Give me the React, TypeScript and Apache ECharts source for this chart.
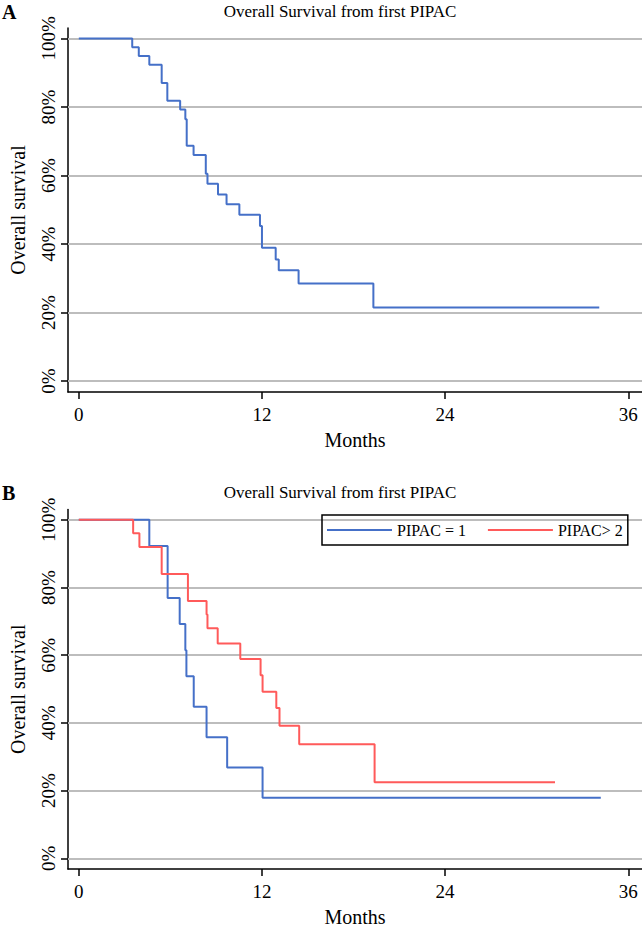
import React, { useEffect, useRef } from "react";
import * as echarts from "echarts";

const FONT = "'Liberation Serif', 'Times New Roman', Times, serif";
const TITLE = "Overall Survival from first PIPAC";
const X_TICKS = [0, 12, 24, 36];
const Y_TICKS = [0, 20, 40, 60, 80, 100];
const LEGEND_NAMES = ["PIPAC = 1", "PIPAC> 2"];

// Panel A: all patients — time of each step (months) and survival (%) after it
const ALL_MONTHS = [0, 3.5, 3.93, 4.62, 5.43, 5.8, 6.64, 6.98, 7.07, 7.52, 8.32, 8.43, 9.12, 9.68, 10.52, 11.87, 12.0, 12.9, 13.1, 14.4, 19.3, 34.1];
const ALL_SURV = [100, 97.4, 94.9, 92.3, 87.0, 81.8, 79.3, 76.4, 68.7, 66.0, 60.5, 57.6, 54.5, 51.6, 48.6, 45.3, 38.9, 35.5, 32.4, 28.5, 21.5, 21.5];

// Panel B: PIPAC = 1
const ONE_MONTHS = [0, 4.62, 5.82, 6.61, 6.98, 7.05, 7.53, 8.37, 9.72, 12.04, 34.2];
const ONE_SURV = [100, 92.3, 76.9, 69.2, 61.5, 53.8, 44.8, 35.8, 26.8, 17.9, 17.9];

// Panel B: PIPAC > 2
const MORE_MONTHS = [0, 3.56, 3.97, 5.43, 7.15, 8.37, 8.43, 9.1, 10.58, 11.91, 12.04, 12.94, 13.15, 14.44, 19.38, 31.2];
const MORE_SURV = [100, 96, 92, 84, 76, 72, 68, 63.5, 58.9, 54.1, 49.2, 44.4, 39.2, 33.7, 22.5, 22.5];

const BLUE = "#4570C8";
const RED = "#FF5A5A";
const GRID_GRAY = "#BDBDBD";

const zip = (xs: number[], ys: number[]) => xs.map((x, i) => [x, ys[i]]);

export default function App() {
  const ref = useRef<HTMLDivElement>(null);
  useEffect(() => {
    document.body.style.margin = "0";
    if (!ref.current) return;
    const chart = echarts.init(ref.current, null, { renderer: "svg" });
    const axisLineStyle = { color: "#000", width: 1.5 };
    const textBase = { fontFamily: FONT, color: "#000" };
    const X_MIN = -0.708;
    const X_MAX = 36.9;
    const Y_MIN = -3.15;
    const Y_MAX = 103.05;

    const xAxis = [0, 1].map((i) => ({
      type: "value",
      gridIndex: i,
      min: X_MIN,
      max: X_MAX,
      axisLine: { show: true, onZero: false, lineStyle: axisLineStyle },
      axisTick: { show: true, customValues: X_TICKS, length: 7, lineStyle: axisLineStyle },
      axisLabel: { customValues: X_TICKS, fontSize: 19, margin: 13, ...textBase },
      splitLine: { show: false },
      name: "Months",
      nameLocation: "middle",
      nameGap: 38,
      nameTextStyle: { fontSize: 20, ...textBase },
    }));

    const yAxis = [0, 1].map((i) => ({
      type: "value",
      gridIndex: i,
      min: Y_MIN,
      max: Y_MAX,
      axisLine: { show: true, onZero: false, lineStyle: axisLineStyle },
      axisTick: { show: true, customValues: Y_TICKS, length: 7, lineStyle: axisLineStyle },
      axisLabel: {
        customValues: Y_TICKS,
        rotate: 90,
        formatter: "{value}%",
        fontSize: 19,
        margin: 10,
        ...textBase,
      },
      splitLine: { show: false },
      name: "Overall survival",
      nameLocation: "middle",
      nameRotate: 90,
      nameGap: 40,
      nameTextStyle: { fontSize: 20, ...textBase },
    }));

    const gridMark = {
      silent: true,
      symbol: "none",
      z: 1,
      label: { show: false },
      lineStyle: { color: GRID_GRAY, width: 1.8, type: "solid" },
      data: Y_TICKS.map((v) => ({ yAxis: v })),
    };

    const stepSeries = (name: string, xi: number, data: number[][], color: string, withGrid: boolean) => ({
      type: "line",
      name,
      xAxisIndex: xi,
      yAxisIndex: xi,
      step: "end",
      symbol: "none",
      z: 3,
      data,
      lineStyle: { color, width: 2 },
      itemStyle: { color },
      ...(withGrid ? { markLine: gridMark } : {}),
    });

    chart.setOption({
      animation: false,
      backgroundColor: "#fff",
      grid: [
        { left: 58, top: 28, width: 584, height: 364, containLabel: false },
        { left: 58, top: 509.5, width: 584, height: 364.5, containLabel: false },
      ],
      xAxis,
      yAxis,
      legend: {
        data: LEGEND_NAMES,
        left: 322,
        top: 515,
        orient: "horizontal",
        icon: "rect",
        itemWidth: 65,
        itemHeight: 2,
        itemGap: 22,
        padding: [7, 5, 7, 5],
        borderColor: "#000",
        borderWidth: 1.5,
        textStyle: { fontSize: 16, ...textBase },
      },
      series: [
        stepSeries("Overall", 0, zip(ALL_MONTHS, ALL_SURV), BLUE, true),
        stepSeries(LEGEND_NAMES[0], 1, zip(ONE_MONTHS, ONE_SURV), BLUE, true),
        stepSeries(LEGEND_NAMES[1], 1, zip(MORE_MONTHS, MORE_SURV), RED, false),
      ],
      graphic: [
        {
          type: "text",
          x: 340,
          y: 11,
          style: { text: TITLE, fontSize: 17, fontFamily: FONT, fill: "#000", align: "center", verticalAlign: "middle" },
        },
        {
          type: "text",
          x: 340,
          y: 492,
          style: { text: TITLE, fontSize: 17, fontFamily: FONT, fill: "#000", align: "center", verticalAlign: "middle" },
        },
        {
          type: "text",
          x: 2,
          y: 12,
          style: { text: "A", fontSize: 20, fontWeight: "bold", fontFamily: FONT, fill: "#000", align: "left", verticalAlign: "middle" },
        },
        {
          type: "text",
          x: 2,
          y: 493,
          style: { text: "B", fontSize: 20, fontWeight: "bold", fontFamily: FONT, fill: "#000", align: "left", verticalAlign: "middle" },
        },
      ],
    });
    return () => chart.dispose();
  }, []);
  return <div ref={ref} style={{ position: "absolute", left: 0, top: 0, width: 642, height: 928 }} />;
}
